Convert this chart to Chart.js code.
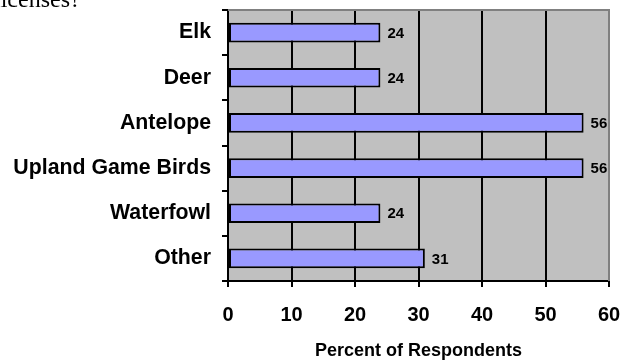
<!DOCTYPE html>
<html>
<head>
<meta charset="utf-8">
<script src="https://cdn.jsdelivr.net/npm/chart.js@4/dist/chart.umd.min.js"></script>
<style>
  html, body { margin: 0; padding: 0; background: #ffffff; overflow: hidden; }
  #wrap { position: relative; width: 623px; height: 362px; }
  #question {
    position: absolute; left: -6px; top: -13px;
    font-family: "Liberation Serif", "Times New Roman", serif;
    font-size: 24px; line-height: 24px; color: #000; white-space: nowrap;
  }
  canvas { position: absolute; left: 0; top: 0; }
</style>
</head>
<body>
<div id="wrap">
  <canvas id="chart" width="623" height="362"></canvas>
  <div id="question">licenses?</div>
</div>
<script>
// Hunting licence types, share of respondents (%)
const categories = ["Elk", "Deer", "Antelope", "Upland Game Birds", "Waterfowl", "Other"];
const percentValues = [24, 24, 56, 56, 24, 31];
const xTickValues = [0, 10, 20, 30, 40, 50, 60];
const xAxisTitle = "Percent of Respondents";

const FONT = "'Liberation Sans', Arial, Helvetica, sans-serif";

// Grey plot background plus grey top/right frame
const plotFrame = {
  id: "plotFrame",
  beforeDraw(chart) {
    const { ctx, chartArea: a } = chart;
    ctx.save();
    ctx.fillStyle = "#c0c0c0";
    ctx.fillRect(a.left, a.top, a.right - a.left, a.bottom - a.top);
    ctx.restore();
  },
  afterDatasetsDraw(chart) {
    const { ctx, chartArea: a } = chart;
    ctx.save();
    ctx.strokeStyle = "#808080";
    ctx.lineWidth = 2;
    ctx.beginPath();
    ctx.moveTo(a.left, a.top);
    ctx.lineTo(a.right, a.top);
    ctx.lineTo(a.right, a.bottom);
    ctx.stroke();
    ctx.restore();
  }
};

// Value labels just past the end of each bar
const valueLabels = {
  id: "valueLabels",
  afterDatasetsDraw(chart) {
    const { ctx } = chart;
    const meta = chart.getDatasetMeta(0);
    ctx.save();
    ctx.font = "bold 15px " + FONT;
    ctx.fillStyle = "#000";
    ctx.textAlign = "left";
    ctx.textBaseline = "middle";
    meta.data.forEach((bar, i) => {
      const v = chart.data.datasets[0].data[i];
      ctx.fillText(String(v), bar.x + 7, bar.y + 1);
    });
    ctx.restore();
  }
};

new Chart(document.getElementById("chart"), {
  type: "bar",
  data: {
    labels: categories,
    datasets: [{
      data: percentValues,
      backgroundColor: "#9999ff",
      borderColor: "#000000",
      borderWidth: 2,
      borderSkipped: false,
      barPercentage: 0.62,
      categoryPercentage: 0.7
    }]
  },
  options: {
    indexAxis: "y",
    responsive: false,
    animation: false,
    devicePixelRatio: 1,
    layout: { padding: { left: 0, right: 14, top: 10, bottom: 0 } },
    plugins: { legend: { display: false }, tooltip: { enabled: false } },
    scales: {
      x: {
        min: xTickValues[0],
        max: xTickValues[xTickValues.length - 1],
        afterBuildTicks(scale) { scale.ticks = xTickValues.map(v => ({ value: v })); },
        afterFit(scale) {
          scale.height = 81;
          scale.paddingLeft = 0;
          scale.paddingRight = 0;
        },
        grid: {
          color: ctx => (ctx.index === xTickValues.length - 1 ? "#808080" : "#000000"),
          tickColor: "#000000",
          lineWidth: 2,
          tickLength: 6,
          drawOnChartArea: true
        },
        border: { display: true, color: "#000000", width: 2 },
        ticks: {
          color: "#000",
          font: { family: FONT, size: 20, weight: "bold" },
          padding: 16,
          maxRotation: 0
        },
        title: {
          display: true,
          text: xAxisTitle,
          color: "#000",
          font: { family: FONT, size: 18, weight: "bold" },
          padding: { top: 0, bottom: 0 }
        }
      },
      y: {
        afterFit(scale) {
          scale.width = 228;
          scale.paddingTop = 0;
          scale.paddingBottom = 0;
        },
        grid: {
          offset: true,
          drawOnChartArea: false,
          drawTicks: true,
          tickLength: 6,
          color: "#000000",
          lineWidth: 2
        },
        border: { display: true, color: "#000000", width: 2 },
        ticks: {
          color: "#000",
          font: { family: FONT, size: 21.3, weight: "bold" },
          padding: 11
        }
      }
    }
  },
  plugins: [plotFrame, valueLabels]
});
</script>
</body>
</html>
